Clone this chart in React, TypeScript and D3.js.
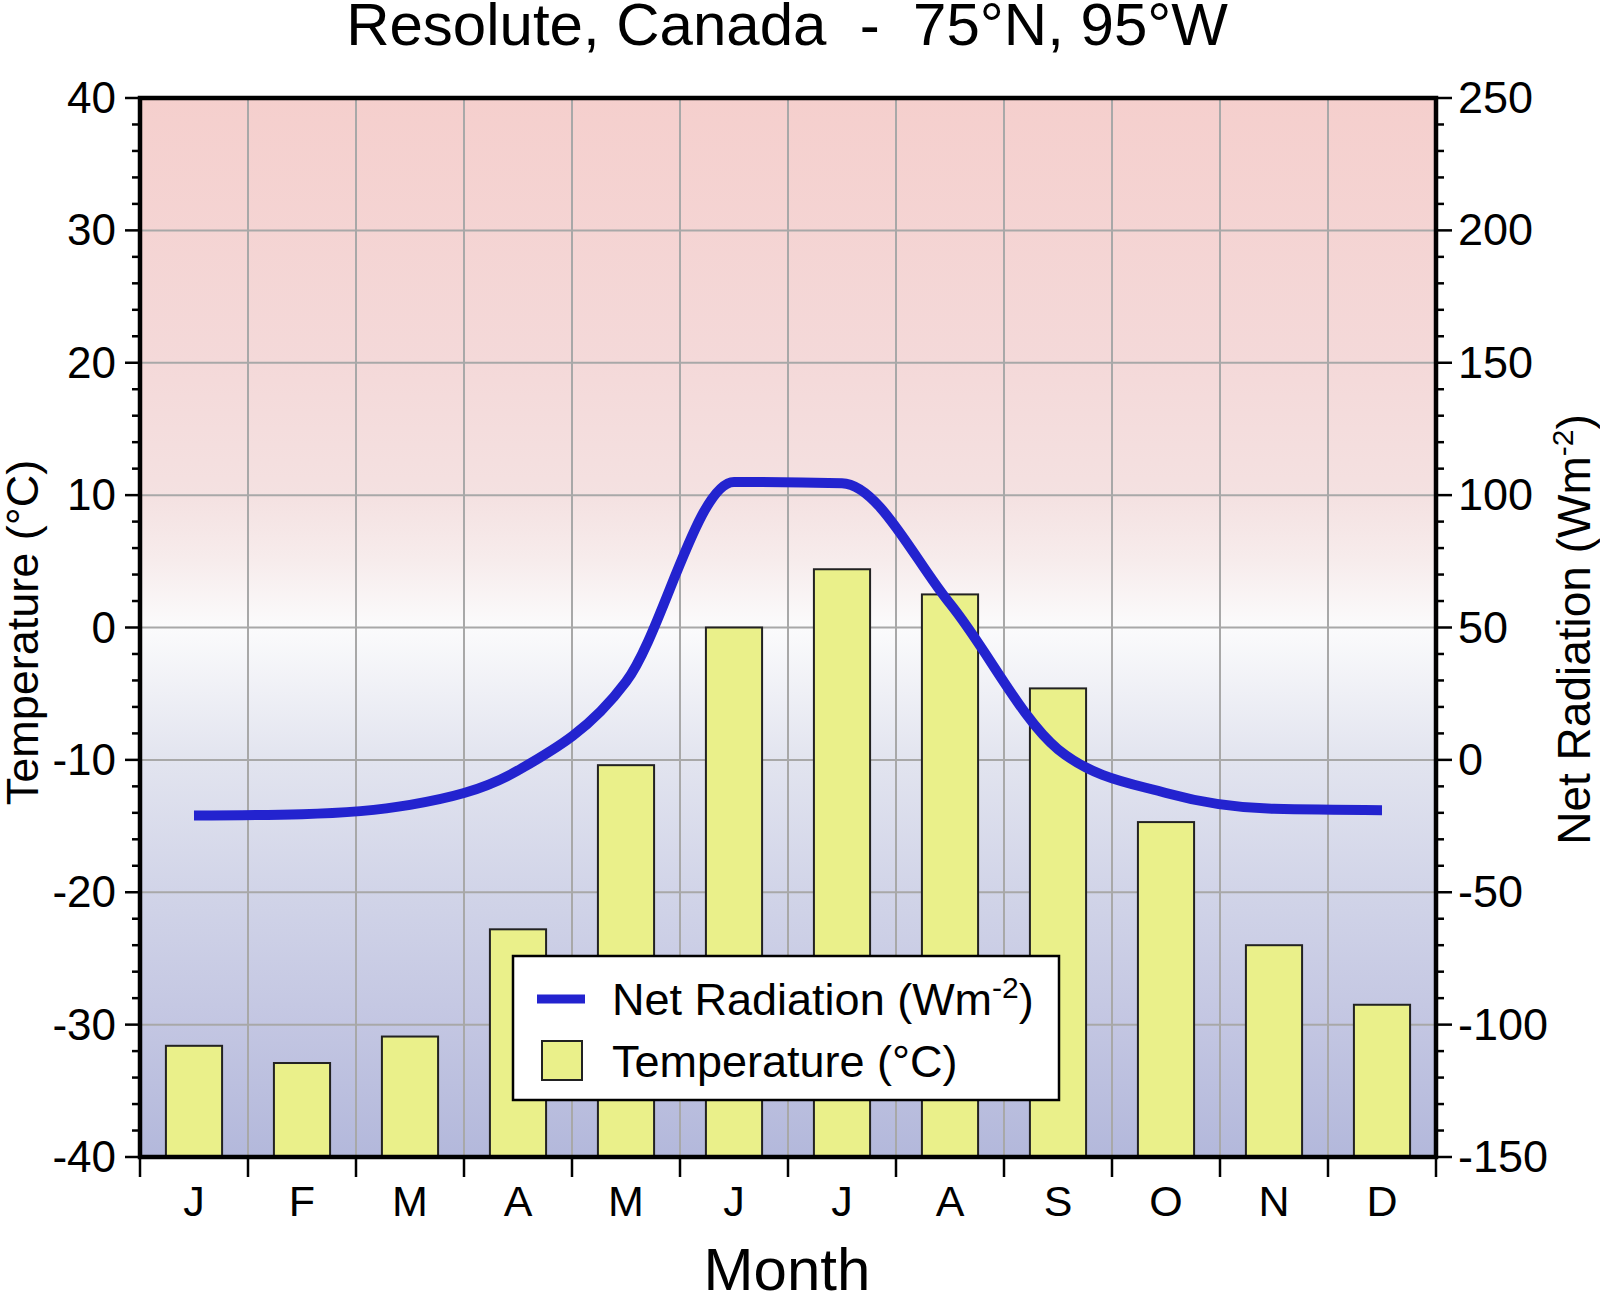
import { useEffect } from 'react'
import * as d3 from 'd3'

const months = ['J', 'F', 'M', 'A', 'M', 'J', 'J', 'A', 'S', 'O', 'N', 'D']
const temperature = [-31.6, -32.9, -30.9, -22.8, -10.4, 0.0, 4.4, 2.5, -4.6, -14.7, -24.0, -28.5]
const netRadiation = [-21, -20.5, -17, -4, 29.5, 105, 104.5, 59, 4, -12.5, -18.5, -19]
const tempTicks = [-40, -30, -20, -10, 0, 10, 20, 30, 40]
const radTicks = [-150, -100, -50, 0, 50, 100, 150, 200, 250]

const FONT = '"Liberation Sans", Arial, Helvetica, sans-serif'

export default function App() {
  useEffect(() => {
    document.body.style.margin = '0'
  }, [])

  const width = 1600
  const height = 1296
  const left = 140
  const right = 1436
  const top = 98
  const bottom = 1157

  const idx = d3.range(months.length)

  // month bands (grid) and bars
  const xMonth = d3.scaleBand<number>().domain(idx).range([left, right]).padding(0)
  const xBar = d3.scaleBand<number>().domain(idx).range([left, right])
    .paddingInner(0.48).paddingOuter(0.24)

  const yT = d3.scaleLinear().domain([-40, 40]).range([bottom, top])
  const yR = d3.scaleLinear().domain([-150, 250]).range([bottom, top])

  const cx = (i: number) => xMonth(i)! + xMonth.bandwidth() / 2

  const line = d3.line<number>()
    .x((_, i) => cx(i))
    .y(d => yR(d))
    .curve(d3.curveMonotoneX)

  const tempMinor = d3.range(-40, 40.01, 2).filter(v => !tempTicks.includes(v))
  const radMinor = d3.range(-150, 250.01, 10).filter(v => !radTicks.includes(v))
  const boundaries = d3.range(months.length + 1).map(i =>
    i === months.length ? right : xMonth(i)!)

  const bg = [
    { t: 40, c: '#f5cfcd' },
    { t: 20, c: '#f4d9d9' },
    { t: 10, c: '#f4e1e1' },
    { t: 5, c: '#f7ecec' },
    { t: 0, c: '#fbfbfc' },
    { t: -10, c: '#e2e4ef' },
    { t: -20, c: '#d1d4e8' },
    { t: -30, c: '#c3c6e2' },
    { t: -40, c: '#b3b8db' },
  ]

  const blue = '#2323cf'
  const barFill = '#eaf08a'

  return (
    <svg width={width} height={height} style={{ display: 'block', background: '#fff' }}
      fontFamily={FONT}>
      <defs>
        <linearGradient id="bgGrad" gradientUnits="userSpaceOnUse" x1={0} x2={0} y1={top} y2={bottom}>
          {bg.map(s => (
            <stop key={s.t} offset={(yT(s.t) - top) / (bottom - top)} stopColor={s.c} />
          ))}
        </linearGradient>
      </defs>

      {/* title */}
      <text x={787} y={45} fontSize={60} textAnchor="middle" style={{ whiteSpace: 'pre' }}>
        {'Resolute, Canada  -  75°N, 95°W'}
      </text>

      {/* plot background */}
      <rect x={left} y={top} width={right - left} height={bottom - top} fill="url(#bgGrad)" />

      {/* grid */}
      {boundaries.slice(1, -1).map((x, i) => (
        <line key={'gv' + i} x1={x} x2={x} y1={top} y2={bottom} stroke="#a8a8a8" strokeWidth={2} />
      ))}
      {tempTicks.slice(1, -1).map(t => (
        <line key={'gh' + t} x1={left} x2={right} y1={yT(t)} y2={yT(t)} stroke="#a8a8a8" strokeWidth={2} />
      ))}

      {/* temperature bars */}
      {temperature.map((t, i) => (
        <rect key={'b' + i} x={xBar(i)} y={yT(t)} width={xBar.bandwidth()} height={bottom - yT(t)}
          fill={barFill} stroke="#222" strokeWidth={2} />
      ))}

      {/* net radiation */}
      <path d={line(netRadiation) ?? ''} fill="none" stroke={blue} strokeWidth={10} strokeLinejoin="round" />

      {/* frame */}
      <rect x={left} y={top} width={right - left} height={bottom - top} fill="none" stroke="#000" strokeWidth={4.5} />

      {/* left axis ticks */}
      {tempTicks.map(t => (
        <g key={'lt' + t}>
          <line x1={left - 15} x2={left} y1={yT(t)} y2={yT(t)} stroke="#000" strokeWidth={2.5} />
          <text x={116} y={yT(t) + 15} fontSize={44} textAnchor="end">{t}</text>
        </g>
      ))}
      {tempMinor.map(t => (
        <line key={'lm' + t} x1={left - 8} x2={left} y1={yT(t)} y2={yT(t)} stroke="#000" strokeWidth={2.5} />
      ))}

      {/* right axis ticks */}
      {radTicks.map(r => (
        <g key={'rt' + r}>
          <line x1={right} x2={right + 16} y1={yR(r)} y2={yR(r)} stroke="#000" strokeWidth={2.5} />
          <text x={1458} y={yR(r) + 15} fontSize={45} textAnchor="start">{r}</text>
        </g>
      ))}
      {radMinor.map(r => (
        <line key={'rm' + r} x1={right} x2={right + 8} y1={yR(r)} y2={yR(r)} stroke="#000" strokeWidth={2.5} />
      ))}

      {/* bottom axis */}
      {boundaries.map((x, i) => (
        <line key={'bt' + i} x1={x} x2={x} y1={bottom} y2={bottom + 20} stroke="#000" strokeWidth={2.5} />
      ))}
      {months.map((m, i) => (
        <text key={'m' + i} x={cx(i)} y={1216} fontSize={43} textAnchor="middle">{m}</text>
      ))}

      {/* axis titles */}
      <text x={787} y={1290} fontSize={60} textAnchor="middle">Month</text>
      <text transform={`translate(38, ${(top + bottom) / 2 + 5}) rotate(-90)`} fontSize={45} textAnchor="middle">
        Temperature (°C)
      </text>
      <text transform={`translate(1590, ${(top + bottom) / 2 + 2}) rotate(-90)`} fontSize={46} textAnchor="middle">
        Net Radiation (Wm<tspan dy={-17} fontSize={30}>-2</tspan><tspan dy={17}>)</tspan>
      </text>

      {/* legend */}
      <g>
        <rect x={513} y={956} width={546} height={144} fill="#fff" stroke="#000" strokeWidth={2.5} />
        <line x1={537} x2={585} y1={999} y2={999} stroke={blue} strokeWidth={9} />
        <text x={612} y={1015} fontSize={45}>
          Net Radiation (Wm<tspan dy={-17} fontSize={30}>-2</tspan><tspan dy={17}>)</tspan>
        </text>
        <rect x={542} y={1041} width={40} height={39} fill={barFill} stroke="#222" strokeWidth={2} />
        <text x={612} y={1077} fontSize={45}>Temperature (°C)</text>
      </g>
    </svg>
  )
}
